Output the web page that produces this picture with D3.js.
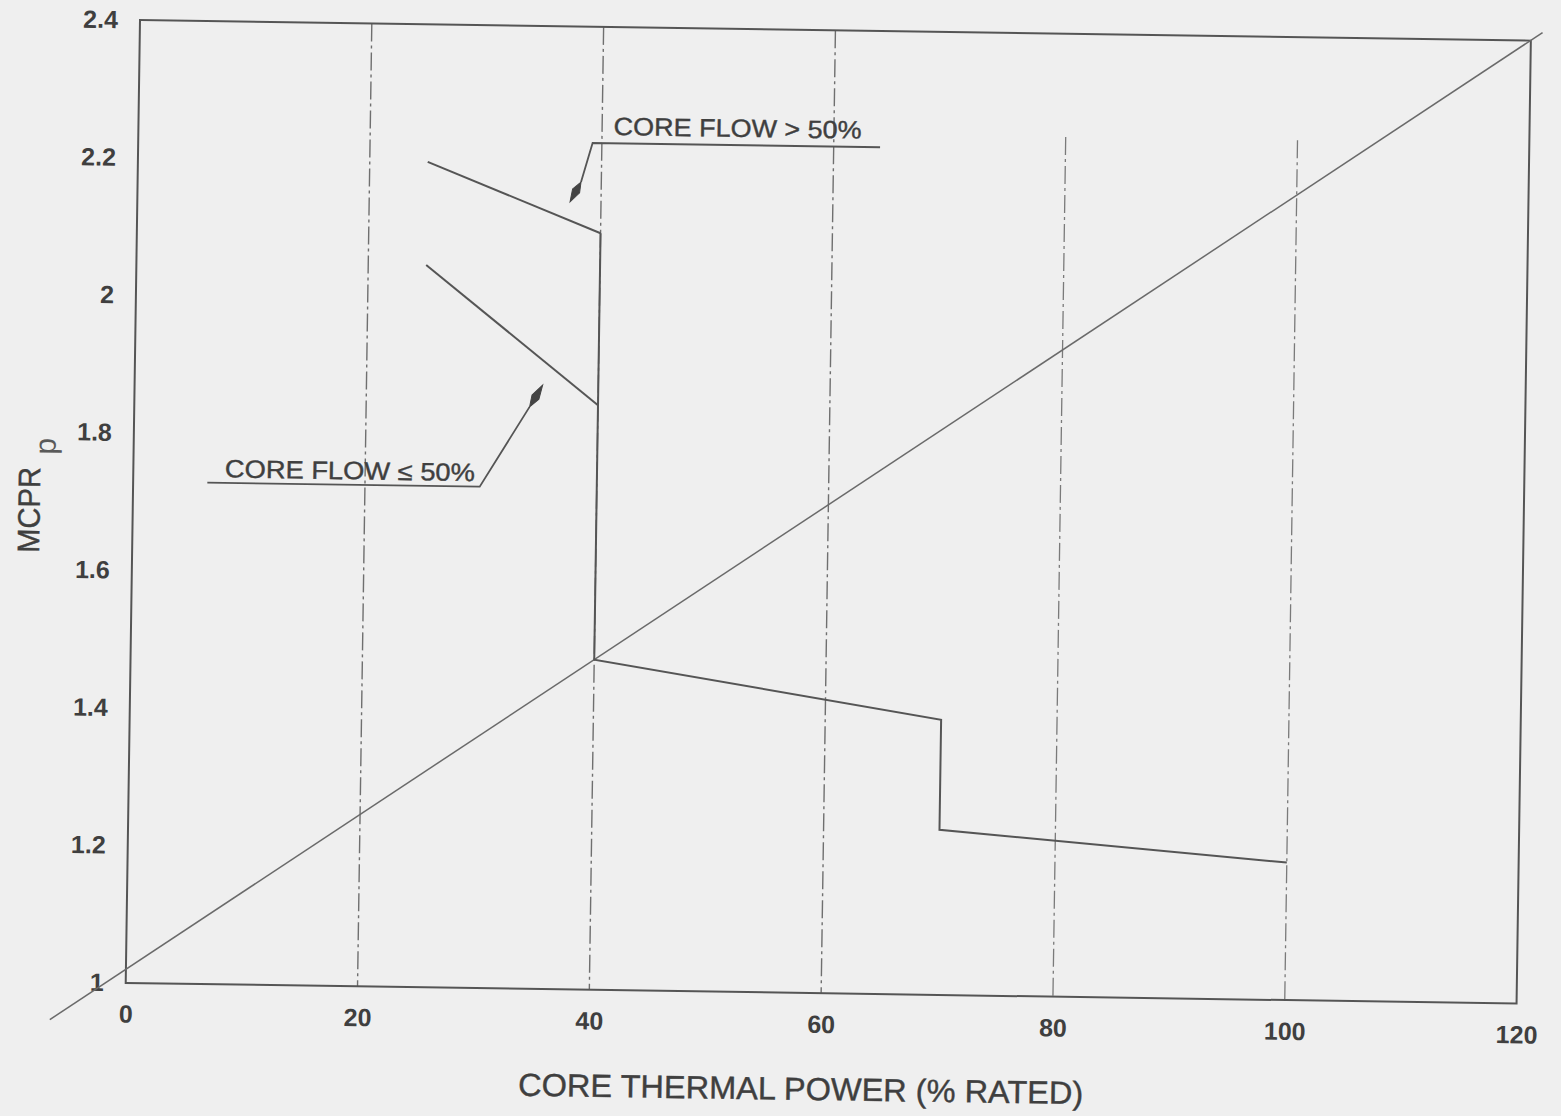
<!DOCTYPE html>
<html><head><meta charset="utf-8">
<script src="https://cdn.jsdelivr.net/npm/d3@7"></script>
<style>
body{margin:0;background:#efefef;}
svg{display:block;}
</style>
</head><body>
<script>
// ---------- data ----------
const xTicks = [0, 20, 40, 60, 80, 100, 120];
const xTickLabels = ["0", "20", "40", "60", "80", "100", "120"];
const yTicks = [1, 1.2, 1.4, 1.6, 1.8, 2, 2.2, 2.4];
const yTickLabels = ["1", "1.2", "1.4", "1.6", "1.8", "2", "2.2", "2.4"];
const gridFull = [20, 40, 60];
const gridPartial = [80, 100];
const gridPartialTop = 2.25;
// MCPRp limit curves (core thermal power %, MCPRp)
const flowHigh = [[25, 2.20], [40, 2.10]];            // core flow > 50%
const flowLow = [[25, 2.05], [40, 1.85]];             // core flow <= 50%
const mainCurve = [[40, 2.10], [40, 1.48], [70, 1.40], [70, 1.24], [100, 1.20]];
const diagonal = [[-6.5, 0.945], [121, 2.412]];
// annotations: text anchor, underline start/end, leader knee, arrow tip (data units)
const annHigh = {label: "CORE FLOW > 50%", text: [41, 2.243], u0: [39.2, 2.231], u1: [64, 2.231], base: [38.25, 2.174], tip: [37.33, 2.145], len: 248};
const annLow = {label: "CORE FLOW \u2264 50%", text: [7.9, 1.737], u0: [6.4, 1.729], u1: [29.9, 1.729], base: [34.1, 1.846], tip: [35.2, 1.878], len: 250};
const xTitle = "CORE THERMAL POWER (% RATED)";
const yTitle = "MCPR";
const yTitleSub = "p";

// ---------- layout ----------
const W = 1561, H = 1116;
const ox = 140, oy = 20, pw = 1391, ph = 963;
const tilt = 0.85;
const ink = "#555", textInk = "#3f3f3f";
const font = "'Liberation Sans', Arial, Helvetica, sans-serif";

const svg = d3.select("body").append("svg").attr("width", W).attr("height", H);
svg.append("rect").attr("width", W).attr("height", H).attr("fill", "#efefef");

const g = svg.append("g").attr("transform", `rotate(${tilt},${ox},${oy}) translate(${ox},${oy})`);

const x = d3.scaleLinear().domain([0, 120]).range([0, pw]);
const y = d3.scaleLinear().domain([1, 2.4]).range([ph, 0]);

// grid lines
const dash = "18,4,3,4";
g.selectAll(".gf").data(gridFull).join("line")
  .attr("x1", d => x(d)).attr("x2", d => x(d)).attr("y1", y(2.4)).attr("y2", y(1))
  .attr("stroke", "#6f6f6f").attr("stroke-width", 1.4).attr("stroke-dasharray", dash);
g.selectAll(".gp").data(gridPartial).join("line")
  .attr("x1", d => x(d)).attr("x2", d => x(d)).attr("y1", y(gridPartialTop)).attr("y2", y(1))
  .attr("stroke", "#7a7a7a").attr("stroke-width", 1.3).attr("stroke-dasharray", dash);

// frame
g.append("rect").attr("x", 0).attr("y", 0).attr("width", pw).attr("height", ph)
  .attr("fill", "none").attr("stroke", ink).attr("stroke-width", 2);

// axes (labels only)
const xAxis = g.append("g").attr("transform", `translate(0,${ph})`)
  .call(d3.axisBottom(x).tickValues(xTicks).tickFormat((d, i) => xTickLabels[i]).tickSize(0).tickPadding(22));
const yAxis = g.append("g")
  .call(d3.axisLeft(y).tickValues(yTicks).tickFormat((d, i) => yTickLabels[i]).tickSize(0).tickPadding(22));
[xAxis, yAxis].forEach(a => {
  a.select(".domain").remove();
  a.selectAll("text").attr("font-family", font).attr("font-size", 25).attr("font-weight", "bold")
    .attr("fill", textInk);
});

// lines
const line = d3.line().x(d => x(d[0])).y(d => y(d[1]));
g.append("path").datum(diagonal).attr("d", line).attr("fill", "none")
  .attr("stroke", "#6a6a6a").attr("stroke-width", 1.5);
[flowHigh, flowLow, mainCurve].forEach(s => {
  g.append("path").datum(s).attr("d", line).attr("fill", "none")
    .attr("stroke", ink).attr("stroke-width", 2).attr("stroke-linejoin", "miter");
});

// annotations
function arrowHead(b, t, w) {
  const bx = x(b[0]), by = y(b[1]), tx = x(t[0]), ty = y(t[1]);
  const dx = tx - bx, dy = ty - by, L = Math.hypot(dx, dy);
  const px = -dy / L * w, py = dx / L * w;
  const mx = bx + dx * 0.45, my = by + dy * 0.45;
  return `M${bx},${by}L${mx + px},${my + py}L${tx},${ty}L${mx - px},${my - py}Z`;
}
[annHigh, annLow].forEach(a => {
  g.append("text").attr("x", x(a.text[0])).attr("y", y(a.text[1]))
    .attr("font-family", font).attr("font-size", 25).attr("fill", textInk)
    .attr("stroke", textInk).attr("stroke-width", 0.4)
    .attr("textLength", a.len).attr("lengthAdjust", "spacingAndGlyphs")
    .text(a.label);
  const pts = a === annHigh ? [a.u1, a.u0, a.base] : [a.u0, a.u1, a.base];
  g.append("path").datum(pts).attr("d", line).attr("fill", "none")
    .attr("stroke", ink).attr("stroke-width", 1.8);
  g.append("path").attr("d", arrowHead(a.base, a.tip, 4)).attr("fill", "#444").attr("stroke", "#444").attr("stroke-width", 1);
});

// axis titles
g.append("text").attr("x", pw / 2 - 19).attr("y", ph + 107).attr("text-anchor", "middle")
  .attr("font-family", font).attr("font-size", 32).attr("fill", textInk)
  .attr("stroke", textInk).attr("stroke-width", 0.4)
  .attr("textLength", 565).attr("lengthAdjust", "spacingAndGlyphs")
  .text(xTitle);
g.append("text").attr("transform", "translate(-93,491.5) rotate(-90)").attr("text-anchor", "middle")
  .attr("font-family", font).attr("font-size", 31).attr("fill", textInk)
  .attr("stroke", textInk).attr("stroke-width", 0.4)
  .attr("textLength", 86).attr("lengthAdjust", "spacingAndGlyphs")
  .text(yTitle);
g.append("text").attr("transform", "translate(-78,436) rotate(-90)").attr("text-anchor", "start")
  .attr("font-family", font).attr("font-size", 30).attr("fill", "#5a5a5a")
  .text(yTitleSub);
</script>
</body></html>
